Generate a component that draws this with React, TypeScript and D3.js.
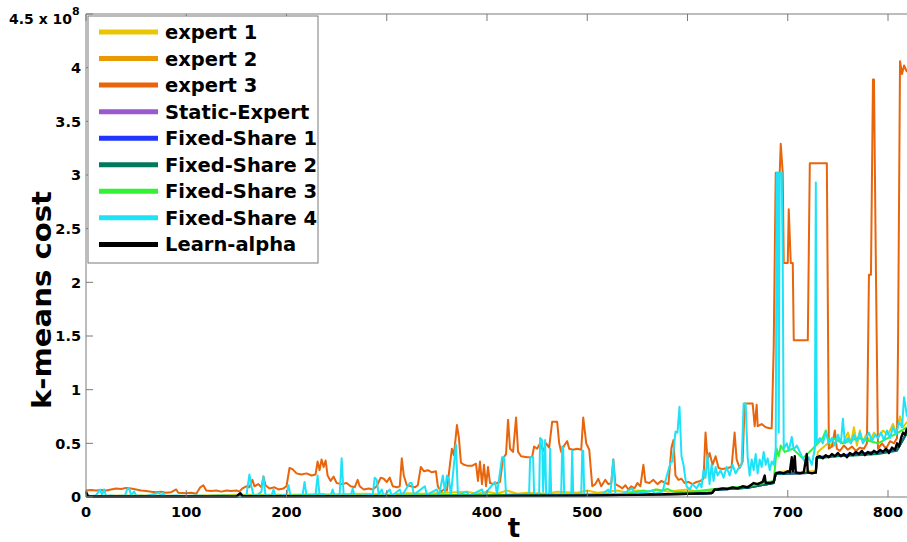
import React, { useEffect } from "react";
import * as d3 from "d3";

type P = [number, number];

const seriesNames = ["expert 1", "expert 2", "expert 3", "Static-Expert", "Fixed-Share 1", "Fixed-Share 2", "Fixed-Share 3", "Fixed-Share 4", "Learn-alpha"];
const seriesColors = ["#E8C600", "#E89A00", "#E8650C", "#9B59D0", "#2035FF", "#00795C", "#33F233", "#1EE3F8", "#000000"];
const xTicks = [0, 100, 200, 300, 400, 500, 600, 700, 800];
const yTicks = [0, 0.5, 1, 1.5, 2, 2.5, 3, 3.5, 4, 4.5];
const yTickLabels = ["0", "0.5", "1", "1.5", "2", "2.5", "3", "3.5", "4", ""];

const expert1: P[] = [[0,0.01],[50,0.015],[100,0.01],[150,0.02],[200,0.02],[250,0.025],[280,0.03],[300,0.02],[320,0.035],[340,0.03],[360,0.04],[380,0.05],[390,0.03],[400,0.05],[410,0.03],[420,0.06],[430,0.03],[440,0.04],[460,0.03],[470,0.05],[490,0.04],[500,0.06],[510,0.04],[520,0.05],[530,0.06],[540,0.04],[550,0.06],[560,0.05],[570,0.07],[580,0.05],[590,0.06],[600,0.07],[610,0.05],[620,0.05],[627,0.075],[640,0.08],[660,0.095],[675,0.14],[686,0.14],[688,0.23],[700,0.24],[710,0.23],[720,0.24],[728,0.24],[730,0.42],[740,0.5],[745,0.47],[750,0.55],[755,0.5],[760,0.6],[763,0.5],[766,0.65],[769,0.48],[772,0.62],[775,0.5],[778,0.58],[782,0.52],[786,0.6],[790,0.55],[795,0.62],[800,0.58],[805,0.68],[808,0.6],[812,0.75],[815,0.65],[819,0.7]];
const expert2: P[] = [[0,0.004],[150,0.005],[300,0.008],[400,0.01],[500,0.014],[550,0.02],[600,0.028],[624,0.035],[627,0.065],[660,0.085],[686,0.13],[688,0.215],[728,0.225],[729,0.37],[770,0.4],[809,0.44],[819,0.6]];
const expert3: P[] = [[0,0.06],[5,0.065],[10,0.06],[15,0.065],[20,0.06],[25,0.07],[30,0.08],[35,0.075],[40,0.085],[45,0.08],[50,0.07],[55,0.06],[60,0.055],[65,0.05],[70,0.045],[75,0.05],[80,0.04],[85,0.045],[90,0.07],[92,0.04],[100,0.035],[105,0.04],[110,0.03],[114,0.09],[117,0.11],[120,0.06],[125,0.055],[130,0.06],[135,0.05],[140,0.06],[145,0.055],[150,0.06],[153,0.05],[156,0.08],[160,0.1],[163,0.09],[166,0.16],[168,0.1],[172,0.12],[175,0.09],[177,0.19],[179,0.11],[183,0.08],[188,0.09],[192,0.07],[197,0.08],[200,0.1],[203,0.27],[206,0.26],[210,0.22],[215,0.21],[220,0.22],[225,0.2],[229,0.21],[231,0.33],[233,0.25],[235,0.35],[237,0.28],[239,0.34],[241,0.2],[244,0.15],[247,0.19],[250,0.13],[255,0.12],[260,0.13],[264,0.1],[268,0.09],[271,0.16],[273,0.1],[277,0.07],[282,0.08],[286,0.07],[290,0.1],[294,0.18],[297,0.17],[300,0.14],[303,0.18],[306,0.1],[310,0.09],[313,0.1],[315,0.36],[317,0.2],[320,0.11],[324,0.1],[328,0.09],[331,0.11],[334,0.28],[337,0.24],[341,0.25],[345,0.23],[349,0.24],[351,0.1],[354,0.05],[357,0.07],[360,0.06],[363,0.3],[365,0.45],[367,0.39],[370,0.67],[372,0.55],[374,0.32],[377,0.3],[381,0.29],[385,0.29],[389,0.31],[391,0.15],[393,0.33],[395,0.12],[397,0.3],[399,0.1],[401,0.28],[403,0.13],[407,0.12],[410,0.13],[413,0.14],[416,0.36],[419,0.4],[421,0.72],[423,0.45],[426,0.42],[429,0.74],[431,0.42],[434,0.38],[440,0.37],[445,0.37],[447,0.47],[450,0.45],[453,0.5],[456,0.43],[459,0.5],[462,0.46],[465,0.7],[470,0.7],[472,0.5],[474,0.42],[477,0.48],[480,0.52],[482,0.45],[486,0.44],[490,0.45],[494,0.44],[496,0.74],[499,0.5],[502,0.44],[505,0.1],[508,0.12],[511,0.17],[514,0.1],[518,0.16],[521,0.12],[524,0.13],[526,0.35],[528,0.12],[532,0.1],[535,0.08],[538,0.11],[541,0.07],[544,0.1],[547,0.08],[550,0.13],[553,0.1],[556,0.3],[558,0.14],[562,0.13],[566,0.16],[570,0.12],[574,0.15],[578,0.13],[581,0.12],[584,0.46],[586,0.53],[588,0.2],[591,0.16],[594,0.17],[597,0.13],[601,0.14],[605,0.12],[609,0.14],[613,0.15],[616,0.17],[618,0.6],[620,0.35],[622,0.41],[625,0.3],[628,0.38],[631,0.27],[635,0.26],[640,0.27],[644,0.28],[647,0.6],[649,0.35],[652,0.27],[655,0.33],[657,0.87],[661,0.87],[665,0.87],[667,0.66],[669,0.86],[670,0.66],[674,0.68],[678,0.65],[682,0.64],[684,0.64],[686,1.4],[688,3.02],[692,3.02],[693,3.29],[695,3.02],[696,2.18],[700,2.18],[701,2.68],[703,2.18],[705,2.18],[706,1.46],[715,1.46],[720,1.46],[722,3.11],[730,3.11],[739,3.11],[741,0.45],[744,0.47],[747,0.62],[749,0.45],[752,0.43],[756,0.48],[760,0.44],[764,0.47],[768,0.43],[772,0.46],[776,0.45],[779,0.5],[781,2.07],[783,2.07],[785,3.89],[786,3.89],[788,2.07],[790,0.45],[794,0.5],[798,0.45],[802,0.52],[806,0.5],[809,0.55],[810,1.4],[812,4.06],[814,3.94],[816,4.02],[819,3.96]];
const staticExpert: P[] = [[0,0.004],[150,0.005],[300,0.008],[400,0.01],[500,0.014],[550,0.02],[600,0.028],[624,0.035],[627,0.065],[660,0.085],[686,0.13],[688,0.215],[728,0.225],[729,0.37],[770,0.4],[809,0.44],[819,0.6]];
const fixedShare1: P[] = [[0,0.004],[150,0.005],[300,0.008],[400,0.01],[500,0.014],[550,0.02],[600,0.028],[624,0.035],[627,0.065],[660,0.085],[686,0.13],[688,0.215],[728,0.225],[729,0.37],[770,0.4],[809,0.44],[819,0.6]];
const fixedShare2: P[] = [[0,0.004],[150,0.005],[154,0.03],[157,0.006],[300,0.008],[400,0.01],[500,0.014],[550,0.02],[600,0.028],[624,0.035],[627,0.065],[660,0.085],[686,0.13],[688,0.215],[703,0.22],[728,0.225],[729,0.36],[750,0.38],[770,0.39],[790,0.4],[809,0.43],[819,0.6]];
const fixedShare3: P[] = [[0,0.01],[100,0.01],[200,0.012],[237,0.025],[240,0.012],[300,0.015],[400,0.02],[500,0.025],[540,0.03],[556,0.06],[562,0.05],[568,0.07],[574,0.06],[580,0.075],[586,0.05],[600,0.045],[627,0.075],[660,0.1],[686,0.15],[689,0.45],[691,0.38],[693,0.48],[697,0.42],[705,0.45],[715,0.36],[725,0.45],[735,0.55],[738,0.62],[741,0.5],[745,0.55],[755,0.5],[770,0.55],[790,0.5],[810,0.6],[819,0.65]];
const fixedShare4: P[] = [[0,0.02],[5,0.01],[10,0.015],[14,0.07],[16,0.02],[18,0.07],[20,0.01],[25,0.015],[30,0.01],[39,0.015],[41,0.07],[43,0.08],[45,0.02],[48,0.05],[50,0.015],[60,0.01],[73,0.04],[75,0.01],[77,0.04],[79,0.01],[90,0.015],[100,0.01],[110,0.015],[120,0.01],[135,0.015],[150,0.01],[160,0.01],[163,0.21],[165,0.1],[167,0.02],[170,0.01],[175,0.05],[177,0.19],[179,0.02],[185,0.01],[187,0.07],[189,0.01],[200,0.02],[202,0.11],[204,0.01],[216,0.015],[218,0.14],[220,0.01],[229,0.02],[231,0.2],[233,0.02],[244,0.01],[246,0.07],[248,0.01],[253,0.02],[255,0.36],[257,0.02],[264,0.01],[266,0.08],[268,0.01],[286,0.02],[288,0.18],[290,0.16],[292,0.02],[295,0.07],[297,0.01],[303,0.07],[305,0.01],[313,0.07],[315,0.01],[323,0.13],[325,0.13],[327,0.02],[338,0.1],[340,0.02],[350,0.07],[352,0.01],[356,0.2],[358,0.05],[360,0.2],[362,0.17],[364,0.02],[369,0.49],[371,0.02],[380,0.05],[382,0.01],[395,0.07],[397,0.02],[408,0.14],[410,0.03],[415,0.37],[417,0.37],[419,0.02],[442,0.02],[443,0.37],[446,0.37],[447,0.02],[452,0.02],[453,0.55],[455,0.53],[456,0.05],[458,0.53],[459,0.02],[462,0.02],[463,0.45],[464,0.02],[474,0.02],[475,0.47],[476,0.46],[477,0.02],[484,0.02],[485,0.43],[486,0.02],[494,0.02],[495,0.43],[496,0.43],[497,0.02],[505,0.02],[515,0.03],[521,0.07],[523,0.02],[526,0.35],[528,0.03],[535,0.03],[545,0.08],[547,0.03],[555,0.04],[565,0.06],[567,0.03],[575,0.05],[583,0.32],[585,0.33],[588,0.61],[590,0.6],[592,0.84],[594,0.38],[596,0.3],[599,0.1],[602,0.07],[605,0.12],[609,0.08],[612,0.13],[614,0.09],[616,0.25],[618,0.18],[620,0.39],[622,0.12],[624,0.3],[626,0.15],[628,0.28],[630,0.2],[633,0.25],[636,0.18],[639,0.28],[642,0.2],[645,0.3],[648,0.22],[651,0.27],[654,0.3],[656,0.87],[658,0.87],[660,0.37],[662,0.2],[664,0.35],[666,0.25],[668,0.4],[670,0.22],[672,0.35],[674,0.28],[676,0.42],[678,0.3],[680,0.36],[682,0.25],[684,0.33],[686,0.3],[688,0.45],[689,3.02],[690,3.02],[691,0.6],[692,3.02],[694,3.02],[695,2.18],[696,0.45],[699,0.5],[701,0.43],[704,0.56],[706,0.44],[709,0.48],[712,0.42],[715,0.36],[718,0.32],[721,0.37],[724,0.3],[727,0.45],[728,2.93],[729,0.5],[732,0.55],[735,0.5],[738,0.6],[741,0.5],[744,0.55],[747,0.48],[750,0.58],[753,0.5],[755,0.73],[757,0.5],[760,0.55],[763,0.5],[766,0.58],[769,0.52],[772,0.6],[775,0.5],[778,0.55],[781,0.6],[784,0.52],[787,0.58],[790,0.55],[793,0.6],[796,0.53],[799,0.62],[802,0.55],[805,0.65],[808,0.58],[811,0.7],[814,0.65],[816,0.93],[819,0.75]];
const learnAlpha: P[] = [[0,0.05],[2,0.005],[150,0.005],[154,0.035],[156,0.008],[300,0.008],[400,0.01],[500,0.015],[550,0.02],[600,0.03],[620,0.035],[625,0.04],[627,0.07],[630,0.07],[635,0.08],[640,0.075],[645,0.09],[650,0.08],[655,0.1],[660,0.09],[663,0.11],[666,0.13],[670,0.12],[675,0.14],[677,0.2],[678,0.13],[682,0.13],[686,0.14],[688,0.22],[692,0.23],[696,0.22],[700,0.24],[702,0.23],[704,0.37],[705,0.24],[707,0.38],[708,0.23],[712,0.22],[716,0.23],[719,0.4],[720,0.23],[724,0.22],[728,0.23],[729,0.37],[732,0.38],[735,0.36],[738,0.39],[741,0.37],[744,0.4],[747,0.38],[750,0.41],[753,0.38],[756,0.4],[759,0.37],[762,0.41],[765,0.39],[768,0.42],[771,0.4],[774,0.43],[777,0.39],[780,0.42],[783,0.4],[786,0.43],[789,0.41],[792,0.44],[795,0.42],[798,0.45],[801,0.41],[804,0.46],[807,0.44],[809,0.5],[811,0.47],[813,0.55],[815,0.6],[817,0.58],[819,0.64]];

const allSeries: P[][] = [expert1, expert2, expert3, staticExpert, fixedShare1, fixedShare2, fixedShare3, fixedShare4, learnAlpha];

const W = 907;
const H = 542;
const FONT = "'DejaVu Sans', Verdana, sans-serif";

export default function App() {
  useEffect(() => {
    document.body.style.margin = "0";
  }, []);

  const x = d3.scaleLinear().domain([0, 820]).range([86, 86 + 820 * 1.0025]);
  const y = d3.scaleLinear().domain([0, 4.5]).range([497, 14]);
  const line = d3.line<P>().x((d) => x(d[0])).y((d) => y(d[1]));
  const axisColor = "#7a7a7a";
  const left = x(0);
  const right = x(820);
  const legendRowY = (i: number) => 32 + i * 26.55;

  return (
    <div style={{ position: "absolute", left: 0, top: 0 }}>
      <svg width={W} height={H} style={{ display: "block", background: "#fff" }}>
        <rect x={0} y={0} width={W} height={H} fill="#fff" />
        <g fill="none" strokeLinejoin="round">
          {allSeries.map((s, i) => (
            <path key={i} d={line(s) || ""} stroke={seriesColors[i]} strokeWidth={i === 8 ? 2.4 : 2} />
          ))}
        </g>
        <g stroke={axisColor} strokeWidth={1} fill="none">
          <line x1={left} x2={left} y1={y(4.5)} y2={y(0)} />
          <line x1={left} x2={right} y1={y(0)} y2={y(0)} />
          <line x1={left} x2={right} y1={y(4.5)} y2={y(4.5)} />
          {yTicks.map((t) => (
            <line key={"yt" + t} x1={left} x2={left + 7} y1={y(t)} y2={y(t)} />
          ))}
          {xTicks.map((t) => (
            <g key={"xt" + t}>
              <line x1={x(t)} x2={x(t)} y1={y(0)} y2={y(0) - 7} />
              <line x1={x(t)} x2={x(t)} y1={y(4.5)} y2={y(4.5) + 7} />
            </g>
          ))}
        </g>
        <g fontFamily={FONT} fontWeight="bold" fontSize={14.5} fill="#000">
          {yTicks.map((t, i) => (
            <text key={"yl" + t} x={left - 5} y={y(t)} dy="0.36em" textAnchor="end">
              {yTickLabels[i]}
            </text>
          ))}
          {xTicks.map((t) => (
            <text key={"xl" + t} x={x(t)} y={517} textAnchor="middle">
              {t}
            </text>
          ))}
          <text x={9} y={24} fontSize={14}>
            4.5 x 10
            <tspan fontSize={11} dy={-9}>8</tspan>
          </text>
        </g>
        <text x={514} y={537} fontFamily={FONT} fontWeight="bold" fontSize={26} textAnchor="middle">t</text>
        <text transform="translate(51,300) rotate(-90)" fontFamily={FONT} fontWeight="bold" fontSize={27} textAnchor="middle" textLength={218} lengthAdjust="spacingAndGlyphs">k-means cost</text>
        <rect x={88} y={16} width={230} height={247} fill="#fff" stroke={axisColor} strokeWidth={1} />
        <g fontFamily={FONT} fontWeight="bold" fontSize={19.5}>
          {seriesNames.map((n, i) => (
            <g key={n}>
              <line x1={99} x2={158} y1={legendRowY(i)} y2={legendRowY(i)} stroke={seriesColors[i]} strokeWidth={5} />
              <text x={165} y={legendRowY(i) + 7}>{n}</text>
            </g>
          ))}
        </g>
      </svg>
    </div>
  );
}
